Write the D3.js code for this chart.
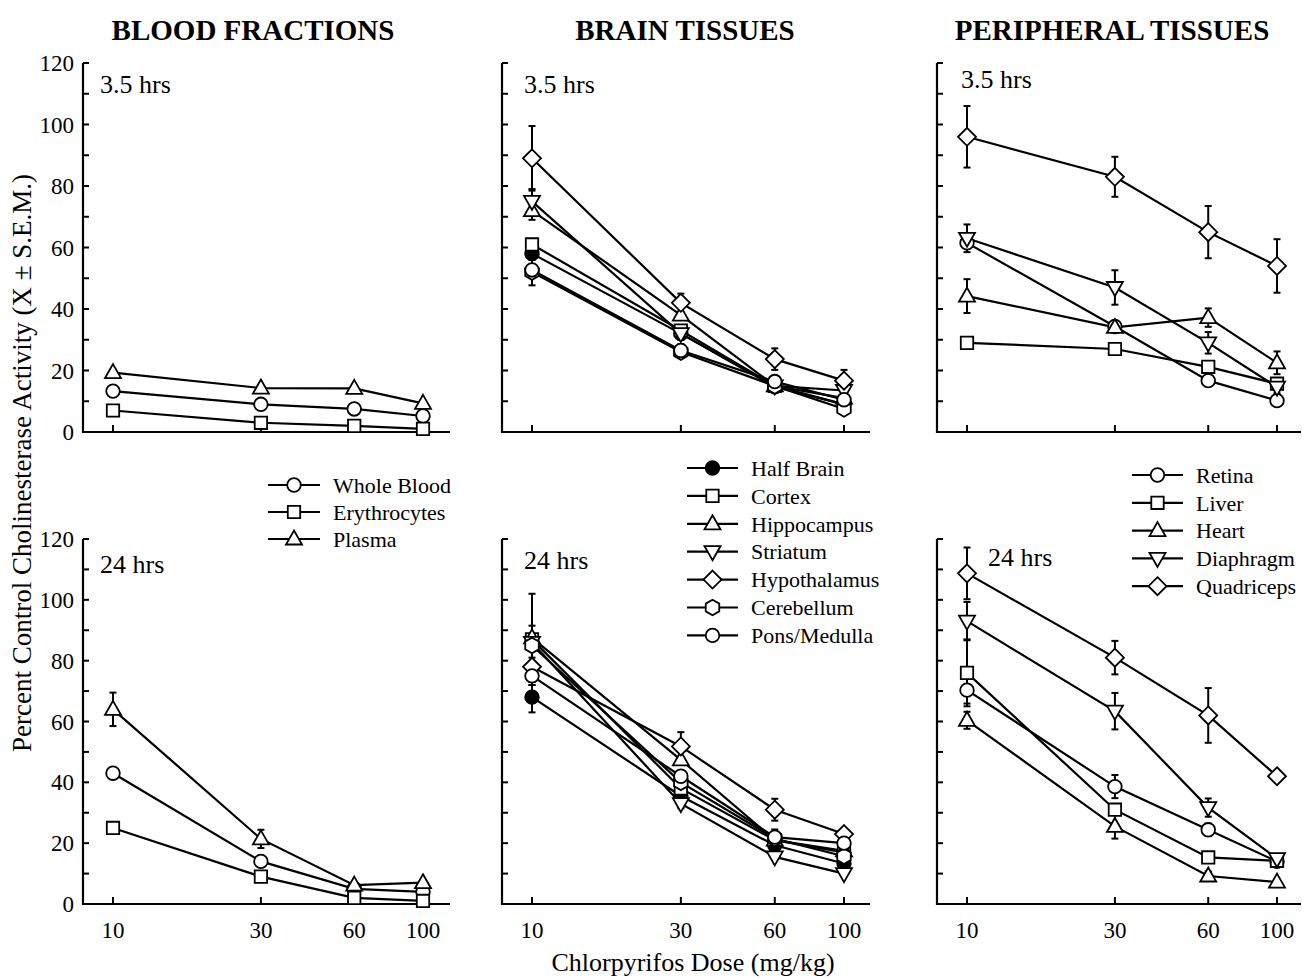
<!DOCTYPE html>
<html>
<head>
<meta charset="utf-8">
<script src="https://cdn.jsdelivr.net/npm/d3@7"></script>
<style>
  body { margin: 0; background: #fff; }
  svg { display: block; font-family: "Liberation Serif", "Times New Roman", serif; }
</style>
</head>
<body>
<svg id="chart" width="1302" height="980"></svg>
<script>
// Cholinesterase activity after chlorpyrifos, 3 tissue groups x 2 time points
const doses = [10, 30, 60, 100];
const yTicks = [0, 20, 40, 60, 80, 100, 120];
const yMinor = [10, 30, 50, 70, 90, 110];
const groupTitles = ["BLOOD FRACTIONS", "BRAIN TISSUES", "PERIPHERAL TISSUES"];
const timeLabels = ["3.5 hrs", "24 hrs"];

const bloodNames = ["Whole Blood", "Erythrocytes", "Plasma"];
const brainNames = ["Half Brain", "Cortex", "Hippocampus", "Striatum", "Hypothalamus", "Cerebellum", "Pons/Medulla"];
const periphNames = ["Retina", "Liver", "Heart", "Diaphragm", "Quadriceps"];

// values (% of control), one row per series in the name order above
const blood35 = [[13.3, 9, 7.5, 5.2], [7, 3, 2, 1], [19.3, 14.3, 14.2, 9.3]];
const blood35Sem = [[0, 0, 0, 0], [0, 0, 0, 0], [0, 0, 0, 0]];
const blood24 = [[43, 14, 5, 4], [25, 9, 2, 1], [64, 21.4, 6.2, 7]];
const blood24Sem = [[0, 0, 0, 0], [0, 0, 0, 0], [5.5, 3, 0, 0]];

const brain35 = [
  [58, 32, 14.7, 9],
  [61, 33, 15, 9],
  [72, 38, 15, 11],
  [75, 32, 15, 13.5],
  [89, 42, 23.7, 16.7],
  [52, 26, 15, 7.5],
  [52.7, 26.5, 16.4, 10.5]
];
const brain35Sem = [
  [2, 2, 0, 0],
  [0, 0, 0, 0],
  [3, 0, 0, 0],
  [4, 0, 0, 0],
  [10.5, 3, 3.5, 3.5],
  [0, 0, 0, 0],
  [5, 2, 0, 0]
];
const brain24 = [
  [68, 35.5, 19.3, 13.3],
  [87, 38, 21, 17],
  [87.5, 47.4, 21, 17.5],
  [86, 33, 15.5, 10],
  [78, 51.8, 31, 23],
  [85, 40, 21.5, 15.7],
  [75, 42, 22, 20]
];
const brain24Sem = [
  [5, 2, 0, 0],
  [15, 3, 0, 0],
  [4, 0, 0, 0],
  [0, 1.5, 0, 0],
  [3, 4.7, 3.6, 0],
  [0, 0, 3, 0],
  [3, 0, 0, 0]
];

const periph35 = [
  [61.5, 34.3, 16.7, 10.2],
  [29, 27, 21.2, 15.7],
  [44.2, 34, 37.2, 22.5],
  [63, 47, 29, 14.6],
  [96, 83, 65, 54]
];
const periph35Sem = [
  [1.5, 0, 1.5, 0],
  [0, 0, 0, 0],
  [5.5, 0, 3, 3.7],
  [4.5, 5.6, 3.5, 2],
  [10, 6.5, 8.5, 8.7]
];
const periph24 = [
  [70.3, 38.6, 24.4, 14],
  [76, 31, 15.3, 14.2],
  [60.4, 25.5, 9.2, 7.2],
  [93, 63.4, 31.7, 14.9],
  [108.7, 81, 62, 42]
];
const periph24Sem = [
  [4.4, 3.8, 2, 0],
  [11, 1.5, 0, 0],
  [2.8, 4, 1.5, 0],
  [6.3, 6, 3, 1.5],
  [8.5, 5.5, 9, 0]
];

// marker style per series
const markerOf = {
  "Whole Blood": "circle", "Erythrocytes": "square", "Plasma": "triangle",
  "Half Brain": "filled", "Cortex": "square", "Hippocampus": "triangle", "Striatum": "triangleDown",
  "Hypothalamus": "diamond", "Cerebellum": "hexagon", "Pons/Medulla": "circle",
  "Retina": "circle", "Liver": "square", "Heart": "triangle", "Diaphragm": "triangleDown", "Quadriceps": "diamond"
};

const svg = d3.select("#chart");

function markerPath(kind) {
  const p = d3.path();
  if (kind === "circle" || kind === "filled") {
    p.arc(0, 0, 6.8, 0, 2 * Math.PI);
  } else if (kind === "square") {
    p.rect(-6.2, -6.2, 12.4, 12.4);
  } else if (kind === "triangle") {
    p.moveTo(0, -8.5); p.lineTo(8, 5.5); p.lineTo(-8, 5.5); p.closePath();
  } else if (kind === "triangleDown") {
    p.moveTo(0, 8.5); p.lineTo(8, -5.5); p.lineTo(-8, -5.5); p.closePath();
  } else if (kind === "diamond") {
    p.moveTo(0, -9); p.lineTo(9, 0); p.lineTo(0, 9); p.lineTo(-9, 0); p.closePath();
  } else if (kind === "hexagon") {
    for (let i = 0; i < 6; i++) {
      const a = -Math.PI / 2 + i * Math.PI / 3;
      const px = 7.8 * Math.cos(a), py = 7.8 * Math.sin(a);
      if (i === 0) p.moveTo(px, py); else p.lineTo(px, py);
    }
    p.closePath();
  }
  return p.toString();
}

function drawMarker(g, kind, cx, cy) {
  g.append("path")
    .attr("d", markerPath(kind))
    .attr("transform", `translate(${cx},${cy})`)
    .attr("fill", kind === "filled" ? "#000" : "#fff")
    .attr("stroke", "#000")
    .attr("stroke-width", 1.8);
}

const cols = [
  { axisX: 83, x10: 113, x100: 423, xEnd: 450 },
  { axisX: 502, x10: 532, x100: 844, xEnd: 870 },
  { axisX: 937, x10: 967, x100: 1277, xEnd: 1301 }
];
const rows = [
  { y0: 432, y120: 63 },
  { y0: 904, y120: 539 }
];
const labelPos = [
  [[100, 93], [524, 93], [961, 88]],
  [[100, 573], [524, 569], [988, 566]]
];

const panels = [
  { col: 0, row: 0, names: bloodNames, vals: blood35, sem: blood35Sem },
  { col: 1, row: 0, names: brainNames, vals: brain35, sem: brain35Sem },
  { col: 2, row: 0, names: periphNames, vals: periph35, sem: periph35Sem },
  { col: 0, row: 1, names: bloodNames, vals: blood24, sem: blood24Sem },
  { col: 1, row: 1, names: brainNames, vals: brain24, sem: brain24Sem },
  { col: 2, row: 1, names: periphNames, vals: periph24, sem: periph24Sem }
];

panels.forEach(pn => {
  const c = cols[pn.col], r = rows[pn.row];
  const x = d3.scaleLog().domain([10, 100]).range([c.x10, c.x100]);
  const y = d3.scaleLinear().domain([0, 120]).range([r.y0, r.y120]);
  const g = svg.append("g");

  // axes
  g.append("line").attr("x1", c.axisX).attr("x2", c.axisX)
    .attr("y1", y(0) + 1).attr("y2", y(120))
    .attr("stroke", "#000").attr("stroke-width", 2.2);
  g.append("line").attr("x1", c.axisX - 1).attr("x2", c.xEnd)
    .attr("y1", y(0)).attr("y2", y(0))
    .attr("stroke", "#000").attr("stroke-width", 2.2);
  g.selectAll("line.yt").data(yTicks.concat(yMinor)).enter().append("line")
    .attr("class", "yt")
    .attr("x1", c.axisX).attr("x2", c.axisX + 6)
    .attr("y1", d => y(d)).attr("y2", d => y(d))
    .attr("stroke", "#000").attr("stroke-width", 2);
  g.selectAll("line.xt").data(doses).enter().append("line")
    .attr("class", "xt")
    .attr("x1", d => x(d)).attr("x2", d => x(d))
    .attr("y1", y(0)).attr("y2", y(0) - 7)
    .attr("stroke", "#000").attr("stroke-width", 2);

  if (pn.col === 0) {
    g.selectAll("text.yl").data(yTicks).enter().append("text")
      .attr("class", "yl")
      .attr("x", c.axisX - 9).attr("y", d => y(d))
      .attr("dy", "0.35em").attr("text-anchor", "end")
      .attr("font-size", 23).text(d => d);
  }
  if (pn.row === 1) {
    g.selectAll("text.xl").data(doses).enter().append("text")
      .attr("class", "xl")
      .attr("x", d => x(d)).attr("y", y(0) + 34)
      .attr("text-anchor", "middle")
      .attr("font-size", 23).text(d => d);
  }

  const lp = labelPos[pn.row][pn.col];
  g.append("text").attr("x", lp[0]).attr("y", lp[1])
    .attr("font-size", 26).text(timeLabels[pn.row]);

  const line = d3.line().x(d => x(d.dose)).y(d => y(d.v));
  const series = pn.names.map((name, i) => ({
    name,
    pts: doses.map((dose, j) => ({ dose, v: pn.vals[i][j], s: pn.sem[i][j] }))
  }));

  series.forEach(s => {
    g.append("path").attr("d", line(s.pts))
      .attr("fill", "none").attr("stroke", "#000").attr("stroke-width", 2.2);
  });
  series.forEach(s => {
    s.pts.filter(p => p.s > 0).forEach(p => {
      const px = x(p.dose);
      g.append("line").attr("x1", px).attr("x2", px)
        .attr("y1", y(p.v - p.s)).attr("y2", y(p.v + p.s))
        .attr("stroke", "#000").attr("stroke-width", 2);
      [p.v - p.s, p.v + p.s].forEach(e => {
        g.append("line").attr("x1", px - 3.5).attr("x2", px + 3.5)
          .attr("y1", y(e)).attr("y2", y(e))
          .attr("stroke", "#000").attr("stroke-width", 2);
      });
    });
  });
  series.forEach(s => {
    s.pts.forEach(p => drawMarker(g, markerOf[s.name], x(p.dose), y(p.v)));
  });
});

// group titles
const titleX = [253, 685, 1112];
groupTitles.forEach((t, i) => {
  svg.append("text").attr("x", titleX[i]).attr("y", 40)
    .attr("text-anchor", "middle").attr("font-weight", "bold")
    .attr("font-size", 29).text(t);
});

// legends
const legends = [
  { names: bloodNames, x1: 268, x2: 320, textX: 333, y0: 485, dy: 27 },
  { names: brainNames, x1: 687, x2: 738, textX: 751, y0: 468, dy: 27.9 },
  { names: periphNames, x1: 1132, x2: 1183, textX: 1196, y0: 475, dy: 27.8 }
];
legends.forEach(L => {
  const lg = svg.append("g");
  L.names.forEach((name, i) => {
    const yy = L.y0 + i * L.dy;
    lg.append("line").attr("x1", L.x1).attr("x2", L.x2)
      .attr("y1", yy).attr("y2", yy)
      .attr("stroke", "#000").attr("stroke-width", 2.2);
    drawMarker(lg, markerOf[name], (L.x1 + L.x2) / 2, yy);
    lg.append("text").attr("x", L.textX).attr("y", yy)
      .attr("dy", "0.35em").attr("font-size", 22).text(name);
  });
});

// axis titles
svg.append("text")
  .attr("transform", "translate(31,463) rotate(-90)")
  .attr("text-anchor", "middle").attr("font-size", 27)
  .text("Percent Control Cholinesterase Activity (X \u00B1 S.E.M.)");
svg.append("text").attr("x", 693).attr("y", 971)
  .attr("text-anchor", "middle").attr("font-size", 26)
  .text("Chlorpyrifos Dose (mg/kg)");
</script>
</body>
</html>
